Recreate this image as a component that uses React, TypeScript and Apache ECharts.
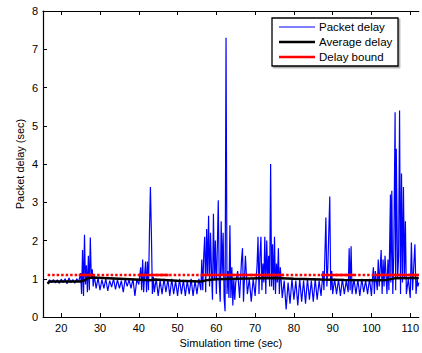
import React, { useEffect, useRef } from "react";
import * as echarts from "echarts";

const xTicks = [20, 30, 40, 50, 60, 70, 80, 90, 100, 110];
const yTicks = [0, 1, 2, 3, 4, 5, 6, 7, 8];

const packetDelay: [number, number][] = [
  [16.5, 0.88], [17, 0.97], [17.5, 0.9], [18, 0.98], [18.5, 0.89], [19, 0.97], [19.5, 0.88], [20, 0.99],
  [20.5, 0.9], [21, 1.0], [21.5, 0.87], [22, 1.02], [22.5, 0.9], [23, 0.98], [23.5, 0.88], [24, 1.0],
  [24.5, 0.92], [25, 1.15],
  [25.25, 0.6], [25.5, 1.75], [25.75, 0.55], [26.0, 2.15], [26.25, 0.85], [26.5, 1.35], [26.75, 0.65],
  [27.0, 1.6], [27.25, 0.7], [27.5, 2.08], [27.75, 1.0], [28.0, 1.25], [28.25, 0.8], [28.5, 1.1],
  [29, 0.75], [29.5, 1.02], [30, 0.7], [30.5, 0.98], [31, 0.75], [31.5, 1.0], [32, 0.68], [32.5, 0.95],
  [33, 0.78], [33.5, 1.0], [34, 0.72], [34.5, 0.98], [35, 0.75], [35.5, 0.95], [36, 0.65], [36.5, 1.0],
  [37, 0.8], [37.5, 0.97], [38, 0.75], [38.5, 1.0], [39, 0.55], [39.5, 0.98], [40, 0.85],
  [40.5, 1.3], [40.75, 0.7], [41, 1.5], [41.25, 0.65], [41.5, 1.1], [41.75, 1.45], [42, 0.65],
  [42.25, 1.45], [42.5, 0.7], [42.75, 2.2], [43, 3.4], [43.25, 2.2], [43.5, 0.6], [43.75, 1.05], [44, 0.65],
  [44.5, 1.0], [45, 0.55], [45.5, 0.95], [46, 0.6], [46.5, 1.0], [47, 0.65], [47.5, 0.98], [48, 0.55],
  [48.5, 1.0], [49, 0.6], [49.5, 0.95], [50, 0.55], [50.5, 1.0], [51, 0.6], [51.5, 0.97], [52, 0.55],
  [52.5, 0.95], [53, 0.6], [53.5, 1.0], [54, 0.55], [54.5, 0.95], [55, 0.6], [55.5, 1.0], [56, 0.7],
  [56.25, 1.5], [56.5, 0.7], [56.75, 1.6], [57, 2.1], [57.25, 0.65], [57.5, 2.3], [57.75, 1.1], [58, 2.65],
  [58.25, 0.8], [58.5, 2.2], [58.75, 1.2], [59, 0.45], [59.25, 2.7], [59.5, 1.0], [59.75, 2.0], [60, 0.6],
  [60.25, 1.8], [60.5, 3.05], [60.75, 0.9], [61, 0.4], [61.25, 2.5], [61.5, 1.1], [61.75, 2.2], [62, 0.5],
  [62.25, 0.15], [62.5, 7.3], [62.75, 0.6], [63, 1.2], [63.25, 0.5], [63.5, 2.4], [63.75, 0.5], [64, 1.3],
  [64.25, 0.3], [64.5, 1.0], [64.75, 0.45], [65, 0.9],
  [65.5, 1.2], [66, 0.5], [66.5, 1.5], [66.75, 1.8], [67, 0.4], [67.5, 1.6], [68, 0.6], [68.5, 1.0],
  [69, 0.4], [69.5, 1.0], [70, 0.55],
  [70.5, 1.35], [70.75, 2.1], [71, 0.6], [71.25, 1.6], [71.5, 2.1], [71.75, 0.7], [72, 1.4], [72.25, 0.9],
  [72.5, 2.1], [72.75, 0.6], [73, 2.0], [73.25, 1.0], [73.5, 1.6], [73.75, 0.8], [74, 4.0], [74.25, 0.8],
  [74.5, 1.9], [74.75, 0.7], [75, 2.1], [75.25, 0.6], [75.5, 1.4], [75.75, 0.9], [76, 1.8], [76.25, 0.6],
  [76.5, 1.3], [77, 0.5],
  [77.5, 0.95], [78, 0.2], [78.5, 0.9], [79, 0.35], [79.5, 1.0], [80, 0.45], [80.5, 0.95], [81, 0.3],
  [81.5, 1.0], [82, 0.4], [82.5, 0.95], [83, 0.35], [83.5, 1.0], [84, 0.45], [84.5, 0.95], [85, 0.4],
  [85.5, 1.0], [86, 0.45], [86.5, 0.95], [87, 0.55],
  [87.5, 1.2], [87.75, 0.7], [88.25, 2.6], [88.5, 0.8], [88.75, 1.3], [89.25, 3.15], [89.5, 0.7],
  [89.75, 1.2], [90, 0.6], [90.5, 1.0],
  [91, 0.6], [91.5, 0.98], [92, 0.55], [92.5, 1.0], [93, 0.6], [93.5, 0.95], [94, 0.65], [94.25, 1.8],
  [94.5, 0.7], [94.75, 1.85], [95, 0.6],
  [95.5, 1.0], [96, 0.6], [96.5, 0.98], [97, 0.55], [97.5, 1.0], [98, 0.65], [98.5, 0.95], [99, 0.6],
  [99.5, 1.0], [100, 0.55], [100.25, 1.0],
  [100.5, 1.3], [100.75, 0.6], [101, 1.2], [101.5, 0.7], [101.75, 1.5], [102, 0.8], [102.5, 1.75],
  [102.75, 0.6], [103, 1.5], [103.25, 0.8], [103.5, 1.6], [104, 0.6],
  [104.25, 1.5], [104.5, 0.7], [104.9, 3.2], [105, 0.9], [105.25, 3.3], [105.5, 0.6], [105.75, 1.6],
  [106.1, 5.35], [106.25, 0.7], [106.4, 4.4], [106.75, 1.0], [107, 1.6], [107.25, 5.4], [107.5, 0.6],
  [107.75, 3.75], [108, 0.9], [108.25, 3.4], [108.5, 1.0], [108.75, 2.5], [109, 0.6],
  [109.5, 1.0], [110, 0.5], [110.3, 1.95], [110.6, 0.7], [111.2, 1.9], [111.5, 0.6], [111.8, 1.0],
  [112, 0.8], [112.2, 0.9],
];

const averageDelay: [number, number][] = [
  [16.5, 0.87], [17, 0.93], [25, 0.93], [26, 0.96], [27, 1.02], [28, 1.03], [35, 1.0], [43, 0.96],
  [44, 0.98], [50, 0.95], [56, 0.93], [58, 0.97], [60, 0.99], [65, 1.0], [75, 1.02], [80, 1.0],
  [87, 0.98], [93, 0.97], [100, 0.96], [104, 0.97], [106, 1.01], [112.2, 1.02],
];

const delayBound = 1.1;
const boundStart = 16.5;
const boundEnd = 112.2;
const denseSegments: [number, number][] = [
  [24.5, 28.4], [40, 47.7], [56, 77.3], [87, 95.6], [100.8, 112.2],
];

const legendNames = ["Packet delay", "Average delay", "Delay bound"];
const legendColors = ["#0000ff", "#000000", "#ff0000"];
const legendWidths = [1.2, 2.5, 2.5];

export default function App() {
  const ref = useRef<HTMLDivElement>(null);
  useEffect(() => {
    if (!ref.current) return;
    const chart = echarts.init(ref.current, null, { renderer: "svg" });
    const font = "'Liberation Sans', Arial, Helvetica, sans-serif";

    const solidBound: (number | null)[][] = [];
    denseSegments.forEach(([a, b], i) => {
      if (i > 0) solidBound.push([a - 0.01, null]);
      solidBound.push([a, delayBound]);
      solidBound.push([b, delayBound]);
    });

    const legendX = 272;
    const legendY = 18;
    const legendGraphics: any[] = [
      {
        type: "rect",
        shape: { x: legendX, y: legendY, width: 126, height: 48 },
        style: {
          fill: "#fff",
          stroke: "#000",
          lineWidth: 1.3,
          shadowColor: "rgba(0,0,0,0.35)",
          shadowOffsetX: 1.5,
          shadowOffsetY: 1.5,
          shadowBlur: 0,
        },
        z: 100,
      },
    ];
    legendNames.forEach((name, i) => {
      const y = legendY + 9 + i * 15;
      legendGraphics.push({
        type: "line",
        shape: { x1: legendX + 7, y1: y, x2: legendX + 43, y2: y },
        style: { stroke: legendColors[i], lineWidth: legendWidths[i] },
        z: 101,
      });
      legendGraphics.push({
        type: "text",
        x: legendX + 47,
        y,
        style: {
          text: name,
          font: `11.5px ${font}`,
          fill: "#000",
          verticalAlign: "middle",
          align: "left",
        },
        z: 101,
      });
    });

    chart.setOption({
      animation: false,
      grid: { left: 43, right: 0, top: 11, bottom: 34, containLabel: false },
      xAxis: [
        {
          type: "value",
          min: 15.3,
          max: 112.2,
          name: "Simulation time (sec)",
          nameLocation: "middle",
          nameGap: 20,
          nameMoveOverlap: false,
          nameTextStyle: { fontFamily: font, fontSize: 11, color: "#000" },
          axisLine: { show: true, onZero: false, lineStyle: { color: "#000", width: 1.2 } },
          axisTick: { show: true, inside: true, length: 4, customValues: xTicks, lineStyle: { color: "#000" } },
          axisLabel: { customValues: xTicks, fontFamily: font, fontSize: 11, color: "#000", margin: 5 },
          splitLine: { show: false },
        },
        {
          type: "value",
          position: "top",
          min: 15.3,
          max: 112.2,
          axisLine: { show: true, onZero: false, lineStyle: { color: "#000", width: 1.2 } },
          axisTick: { show: true, inside: true, length: 4, customValues: xTicks, lineStyle: { color: "#000" } },
          axisLabel: { show: false },
          splitLine: { show: false },
        },
      ],
      yAxis: {
        type: "value",
        min: 0,
        max: 8,
        interval: 1,
        name: "Packet delay (sec)",
        nameLocation: "middle",
        nameGap: 18,
        nameMoveOverlap: false,
        nameTextStyle: { fontFamily: font, fontSize: 11, color: "#000" },
        axisLine: { show: true, onZero: false, lineStyle: { color: "#000", width: 1.2 } },
        axisTick: { show: true, inside: true, length: 4, lineStyle: { color: "#000" } },
        axisLabel: {
          fontFamily: font,
          fontSize: 11,
          color: "#000",
          margin: 5,
          formatter: (v: number) => (yTicks.includes(v) ? String(v) : ""),
        },
        splitLine: { show: false },
      },
      series: [
        {
          name: legendNames[0],
          type: "line",
          data: packetDelay,
          showSymbol: false,
          symbol: "none",
          lineStyle: { color: legendColors[0], width: 1.2 },
          z: 2,
        },
        {
          name: legendNames[1],
          type: "line",
          data: averageDelay,
          showSymbol: false,
          symbol: "none",
          lineStyle: { color: legendColors[1], width: 2.5 },
          z: 3,
        },
        {
          name: legendNames[2],
          type: "line",
          data: [[boundStart, delayBound], [boundEnd, delayBound]],
          showSymbol: false,
          symbol: "none",
          lineStyle: { color: legendColors[2], width: 2.5, type: [2.5, 2] },
          z: 4,
        },
        {
          name: legendNames[2] + " dense",
          type: "line",
          data: solidBound,
          connectNulls: false,
          showSymbol: false,
          symbol: "none",
          lineStyle: { color: legendColors[2], width: 2.5 },
          z: 4,
        },
      ],
      graphic: legendGraphics,
    });
    return () => chart.dispose();
  }, []);

  return (
    <div
      ref={ref}
      style={{ position: "fixed", left: 0, top: 0, width: 422, height: 353, background: "#fff" }}
    />
  );
}
